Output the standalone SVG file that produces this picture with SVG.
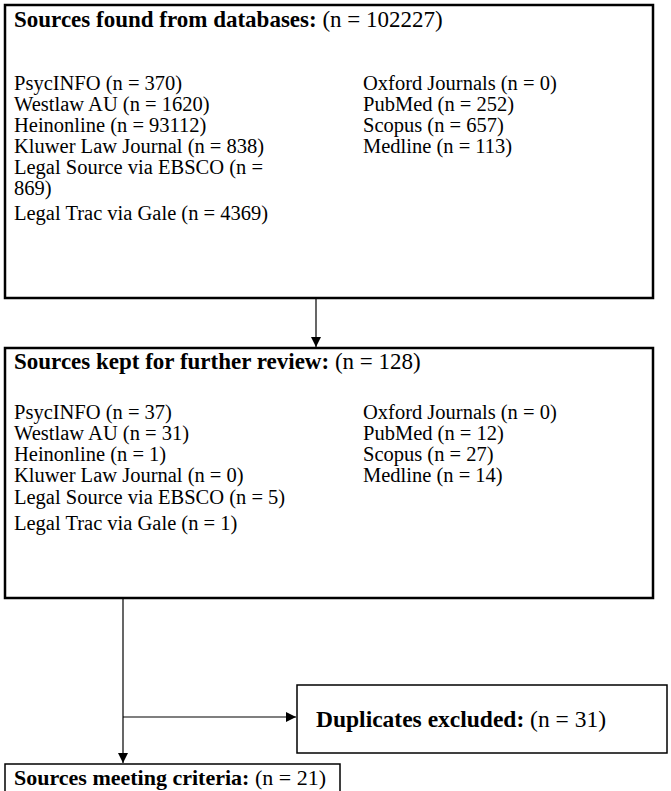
<svg xmlns="http://www.w3.org/2000/svg" width="671" height="791" viewBox="0 0 671 791">
<style>
text{font-family:"Liberation Serif","Times New Roman",serif;font-size:20.5px;fill:#000}
.t{font-size:23px}
.d{font-size:23.5px}
.m{font-size:22px}
.b{font-weight:bold}
.box{fill:#fff;stroke:#000;stroke-width:2.5}
.box2{fill:#fff;stroke:#000;stroke-width:1.5}
.c{fill:none;stroke:#000;stroke-width:1.2}
</style>
<defs>
<marker id="ah" viewBox="0 0 10 10" refX="10" refY="5" markerWidth="10" markerHeight="10" markerUnits="userSpaceOnUse" orient="auto">
<path d="M0,0 L10,5 L0,10 z" fill="#000"/>
</marker>
</defs>
<g id="connectors">
<line class="c" x1="316" y1="298" x2="316" y2="347" marker-end="url(#ah)"/>
<line class="c" x1="123" y1="598" x2="123" y2="763" marker-end="url(#ah)"/>
<line class="c" x1="123" y1="717" x2="296" y2="717" marker-end="url(#ah)"/>
</g>
<g id="found">
<rect class="box" x="5" y="5" width="648" height="293"/>
<text class="t" x="14" y="27"><tspan class="b">Sources found from databases:</tspan> (n = 102227)</text>
<text x="14" y="90">PsycINFO (n = 370)</text>
<text x="14" y="111">Westlaw AU (n = 1620)</text>
<text x="14" y="132">Heinonline (n = 93112)</text>
<text x="14" y="153">Kluwer Law Journal (n = 838)</text>
<text x="14" y="174">Legal Source via EBSCO (n =</text>
<text x="14" y="195">869)</text>
<text x="14" y="220">Legal Trac via Gale (n = 4369)</text>
<text x="363" y="90">Oxford Journals (n = 0)</text>
<text x="363" y="111">PubMed (n = 252)</text>
<text x="363" y="132">Scopus (n = 657)</text>
<text x="363" y="153">Medline (n = 113)</text>
</g>
<g id="kept">
<rect class="box" x="5" y="348" width="648" height="250"/>
<text class="t" x="14" y="369"><tspan class="b">Sources kept for further review:</tspan> (n = 128)</text>
<text x="14" y="419">PsycINFO (n = 37)</text>
<text x="14" y="440">Westlaw AU (n = 31)</text>
<text x="14" y="461">Heinonline (n = 1)</text>
<text x="14" y="482">Kluwer Law Journal (n = 0)</text>
<text x="14" y="504">Legal Source via EBSCO (n = 5)</text>
<text x="14" y="530">Legal Trac via Gale (n = 1)</text>
<text x="363" y="419">Oxford Journals (n = 0)</text>
<text x="363" y="440">PubMed (n = 12)</text>
<text x="363" y="461">Scopus (n = 27)</text>
<text x="363" y="482">Medline (n = 14)</text>
</g>
<g id="duplicates">
<rect class="box2" x="297" y="685" width="370" height="68"/>
<text class="d" x="316" y="727"><tspan class="b">Duplicates excluded:</tspan> (n = 31)</text>
</g>
<g id="meeting">
<rect class="box2" x="5" y="764" width="335" height="40"/>
<text class="m" x="14" y="785"><tspan class="b">Sources meeting criteria:</tspan> (n = 21)</text>
</g>
</svg>
